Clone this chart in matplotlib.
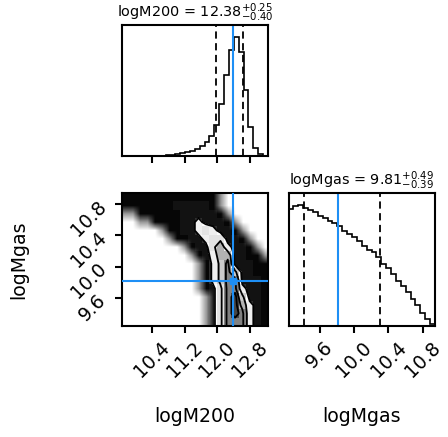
import numpy as np
import matplotlib
matplotlib.use("Agg")
import matplotlib.pyplot as plt
from matplotlib.colors import LinearSegmentedColormap

labels = ["logM200", "logMgas"]
medians = [12.38, 9.81]
err_lo = [0.40, 0.39]
err_hi = [0.25, 0.49]
ranges = [(9.66, 13.25), (9.24, 10.94)]
ticks = [[10.4, 11.2, 12.0, 12.8], [9.6, 10.0, 10.4, 10.8]]
tick_labels = [["10.4", "11.2", "12.0", "12.8"], ["9.6", "10.0", "10.4", "10.8"]]

# normalised 1d histograms, 30 bins over each range
hist_m200 = [0.0, 0.001, 0.002, 0.003, 0.003, 0.003, 0.003, 0.004, 0.004, 0.005,
             0.01, 0.017, 0.024, 0.032, 0.045, 0.06, 0.08, 0.12, 0.17, 0.26,
             0.44, 0.68, 0.89, 1.0, 0.87, 0.55, 0.24, 0.065, 0.02, 0.004]
hist_mgas = [0.967, 0.997, 1.0, 0.98, 0.964, 0.94, 0.91, 0.895, 0.87, 0.856,
             0.83, 0.79, 0.76, 0.74, 0.70, 0.66, 0.63, 0.61, 0.57, 0.51,
             0.48, 0.43, 0.37, 0.33, 0.28, 0.22, 0.17, 0.11, 0.055, 0.02]

# 2d density, 20 logM200 bins x 16 logMgas bins, first row = highest logMgas
# 0 empty, 1 sparse points, 2-3 dense points, 4+ inside the contours
density_rows = [
    "22222222222221000000",
    "22222223333321000000",
    "11222222333332100000",
    "00112222334333210000",
    "00000122334543321000",
    "00000012233455332100",
    "00000000123357433210",
    "00000000012347733221",
    "00000000001246833322",
    "00000000001246863322",
    "00000000001246883332",
    "00000000001235884332",
    "00000000000135896332",
    "00000000000135897432",
    "00000000000135898432",
    "00000000000135888432",
]
shade_values = [0, 0.01, 0.03, 0.08, 0.25, 0.33, 0.45, 0.55, 0.7, 0.85]
point_alpha = [0, 0.4, 1, 1, 1, 1, 1, 1, 1, 1]
contour_levels = [3.5, 5.5, 7.5, 8.5]

truth_color = "#1e8ff5"

plt.rcParams["axes.linewidth"] = 1.5
plt.rcParams["xtick.major.width"] = 1.5
plt.rcParams["ytick.major.width"] = 1.5
plt.rcParams["xtick.major.size"] = 5
plt.rcParams["ytick.major.size"] = 5

fig = plt.figure(figsize=(4.48, 4.37), dpi=100)
ax_top = fig.add_axes([0.272, 0.643, 0.326, 0.300])
ax_2d = fig.add_axes([0.272, 0.254, 0.326, 0.304])
ax_right = fig.add_axes([0.644, 0.254, 0.327, 0.304])

tick_fs = 13.5
label_fs = 13.6
title_fs = 10.4


def draw_hist(ax, k, heights):
    lo, hi = ranges[k]
    edges = np.linspace(lo, hi, len(heights) + 1)
    ax.stairs(heights, edges, color="k", linewidth=1.2)
    q_lo = medians[k] - err_lo[k]
    q_hi = medians[k] + err_hi[k]
    for q in (q_lo, q_hi):
        ax.axvline(q, color="k", ls=(0, (4, 2.5)), lw=1.3)
    ax.axvline(medians[k], color=truth_color, lw=1.5)
    ax.set_xlim(lo, hi)
    ax.set_ylim(0, 1.1 * max(heights))
    ax.set_yticks([])
    ax.set_xticks(ticks[k])
    title = r"%s = $%.2f_{-%.2f}^{+%.2f}$" % (labels[k], medians[k], err_lo[k], err_hi[k])
    ax.set_title(title, fontsize=title_fs, pad=6)


draw_hist(ax_top, 0, hist_m200)
ax_top.set_xticklabels([])

draw_hist(ax_right, 1, hist_mgas)
ax_right.set_xticklabels(tick_labels[1], rotation=45, fontsize=tick_fs)
ax_right.set_xlabel(labels[1], fontsize=label_fs)
ax_right.xaxis.set_label_coords(0.5, -0.61)

# 2d panel
D = np.array([[int(c) for c in row] for row in density_rows], dtype=float)[::-1]
x0, x1 = ranges[0]
y0, y1 = ranges[1]
ny, nx = D.shape
xe = np.linspace(x0, x1, nx + 1)
ye = np.linspace(y0, y1, ny + 1)
xc = 0.5 * (xe[1:] + xe[:-1])
yc = 0.5 * (ye[1:] + ye[:-1])

# sample cloud
rgba = np.zeros((ny, nx, 4))
rgba[..., 3] = np.array(point_alpha)[D.astype(int)]
ax_2d.imshow(rgba, extent=[x0, x1, y0, y1], origin="lower", aspect="auto",
             interpolation="bilinear", zorder=0)

# contours use the grid extended to the panel edges
xp = np.concatenate([[x0], xc, [x1]])
yp = np.concatenate([[y0], yc, [y1]])
Dp = np.pad(D, 1, mode="edge")
ax_2d.contourf(xp, yp, Dp, levels=[contour_levels[0], 10], colors=["white"],
               antialiased=False, zorder=1)

density_cmap = LinearSegmentedColormap.from_list("density_cmap", ["k", (1, 1, 1, 0)])
shade = np.array(shade_values)[D.astype(int)]
ax_2d.pcolormesh(xe, ye, 1 - shade, cmap=density_cmap, vmin=0, vmax=1, zorder=2)
ax_2d.contour(xp, yp, Dp, levels=contour_levels, colors="k", linewidths=1.3, zorder=3)

ax_2d.axvline(medians[0], color=truth_color, lw=1.5, zorder=4)
ax_2d.axhline(medians[1], color=truth_color, lw=1.5, zorder=4)
ax_2d.plot(medians[0], medians[1], "s", color=truth_color, ms=5, zorder=5)

ax_2d.set_xlim(x0, x1)
ax_2d.set_ylim(y0, y1)
ax_2d.set_xticks(ticks[0])
ax_2d.set_xticklabels(tick_labels[0], rotation=45, fontsize=tick_fs)
ax_2d.set_yticks(ticks[1])
ax_2d.set_yticklabels(tick_labels[1], rotation=45, fontsize=tick_fs)
ax_2d.set_xlabel(labels[0], fontsize=label_fs)
ax_2d.xaxis.set_label_coords(0.5, -0.61)
ax_2d.set_ylabel(labels[1], fontsize=label_fs)
ax_2d.yaxis.set_label_coords(-0.64, 0.5)

fig.savefig("out.png", dpi=100)
